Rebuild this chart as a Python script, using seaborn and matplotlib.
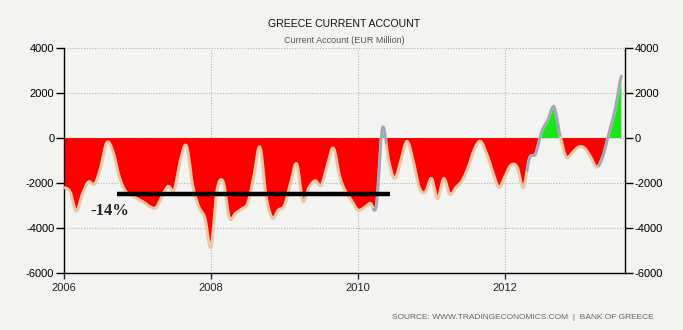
import numpy as np
import pandas as pd
import matplotlib
matplotlib.use("Agg")
import matplotlib.pyplot as plt
from matplotlib import font_manager
import seaborn as sns

# Monthly current account balance, EUR million, starting January 2006
start_year = 2006
current_account = [
    -2200, -2400, -3250, -2500, -1950, -2050, -1300, -200, -600, -1700, -2350, -2550,   # 2006
    -2700, -2850, -3050, -3100, -2600, -2150, -2300, -1000, -350, -2100, -3050, -3550,  # 2007
    -4850, -2300, -1950, -3550, -3350, -3150, -2900, -1700, -400, -2600, -3550, -3200,  # 2008
    -3000, -2000, -1150, -2800, -2200, -1900, -2100, -1200, -450, -1700, -2400, -2800,  # 2009
    -3200, -3100, -2900, -3000, 450, -1000, -1800, -1000, -150, -1000, -2200, -2400,    # 2010
    -1800, -2700, -1800, -2500, -2200, -1900, -1300, -500, -150, -700, -1500, -2200,    # 2011
    -1700, -1200, -1300, -2200, -900, -700, 300, 800, 1400, 100, -850, -650,            # 2012
    -400, -450, -850, -1300, -800, 250, 1300, 2750,                                     # 2013
]
year_ticks = [2006, 2008, 2010, 2012]
y_ticks = [4000, 2000, 0, -2000, -4000, -6000]

# Average deficit marker and its label
avg_level = -2500
avg_span = [2006.72, 2010.44]
avg_label = "-14%"

title = "GREECE CURRENT ACCOUNT"
subtitle = "Current Account (EUR Million)"
source = "SOURCE: WWW.TRADINGECONOMICS.COM  |  BANK OF GREECE"

df = pd.DataFrame({
    "t": start_year + np.arange(len(current_account)) / 12.0,
    "value": current_account,
})


def smooth_path(x, y, steps=10):
    """Catmull-Rom curve through the given points, for drawing."""
    x = np.asarray(x, float)
    y = np.asarray(y, float)
    px = np.concatenate([[2 * x[0] - x[1]], x, [2 * x[-1] - x[-2]]])
    py = np.concatenate([[y[0]], y, [y[-1]]])
    xs, ys = [], []
    u = np.linspace(0, 1, steps, endpoint=False)
    for i in range(1, len(px) - 2):
        for arr, out in ((px, xs), (py, ys)):
            p0, p1, p2, p3 = arr[i - 1], arr[i], arr[i + 1], arr[i + 2]
            out.extend(0.5 * ((2 * p1) + (-p0 + p2) * u
                              + (2 * p0 - 5 * p1 + 4 * p2 - p3) * u ** 2
                              + (-p0 + 3 * p1 - 3 * p2 + p3) * u ** 3))
    xs.append(x[-1])
    ys.append(y[-1])
    return pd.DataFrame({"t": xs, "value": ys})


sns.set_style("ticks")
bg = "#f3f3f1"
installed = {f.name for f in font_manager.fontManager.ttflist}
label_font = "Liberation Sans Narrow" if "Liberation Sans Narrow" in installed else "Liberation Sans"
narrow = label_font == "Liberation Sans Narrow"
plt.rcParams["font.family"] = [label_font, "DejaVu Sans"]

fig = plt.figure(figsize=(6.83, 3.30), dpi=100, facecolor=bg)
ax = fig.add_axes([0.0937, 0.1727, 0.8214, 0.6818], facecolor=bg)

curve = smooth_path(df["t"], df["value"])
t = curve["t"].to_numpy()
v = curve["value"].to_numpy()

# Deficit/surplus fills
ax.fill_between(t, v, 0, where=v <= 0, interpolate=True, color="#ff0000", lw=0, zorder=2)
ax.fill_between(t, v, 0, where=v >= 0, interpolate=True, color="#19e619", lw=0, zorder=2)

# Outline of the series
sns.lineplot(data=curve, x="t", y="value", ax=ax, color="#efc7a2", lw=2.2,
             sort=False, estimator=None, zorder=3)
for a, b in [(50.5, 52.6), (75.5, 81), (87.3, len(df) - 1)]:
    seg = curve[(curve["t"] >= start_year + a / 12) & (curve["t"] <= start_year + b / 12)]
    sns.lineplot(data=seg, x="t", y="value", ax=ax, color="#9ca6c3", lw=1.8,
                 sort=False, estimator=None, zorder=4)

# Average line and annotation
ax.plot(avg_span, [avg_level, avg_level], color="black", lw=3.2, solid_capstyle="butt", zorder=5)
ax.text(2006.36, -3250, avg_label, family=["Liberation Serif", "DejaVu Serif"],
        fontsize=12, fontweight="bold", ha="left", va="center", zorder=6)

ax.set_xlim(2006.0, 2013.633)
ax.set_ylim(-6000, 4000)
ax.set_xticks(year_ticks)
ax.set_xticklabels([str(y) for y in year_ticks])
ax.set_yticks(y_ticks)
ax.set_yticklabels([str(y) for y in y_ticks])
ax.set_xlabel("")
ax.set_ylabel("")

ax.grid(True, color="#b5b5b5", linestyle=(0, (1, 1.5)), lw=0.8, zorder=0)

for side in ["left", "right", "bottom"]:
    ax.spines[side].set_visible(True)
    ax.spines[side].set_color("black")
    ax.spines[side].set_linewidth(1.0)
ax.spines["top"].set_visible(False)

tick_size = 9 if narrow else 8
ax.tick_params(axis="y", which="both", left=True, right=True, labelleft=True,
               labelright=True, direction="out", length=6, width=1,
               labelsize=tick_size, colors="black", pad=1)
ax.tick_params(axis="x", direction="out", length=4, width=1, labelsize=tick_size, pad=3)

fig.text(0.5035, 0.927, title, ha="center", va="center",
         fontsize=9.5 if narrow else 7.6, color="#111111")
fig.text(0.5035, 0.878, subtitle, ha="center", va="center",
         fontsize=7 if narrow else 6.5, color="#555555")
fig.text(0.957, 0.037, source, ha="right", va="center",
         fontsize=7 if narrow else 6, color="#666666")

fig.savefig("out.png", dpi=100, facecolor=bg)
